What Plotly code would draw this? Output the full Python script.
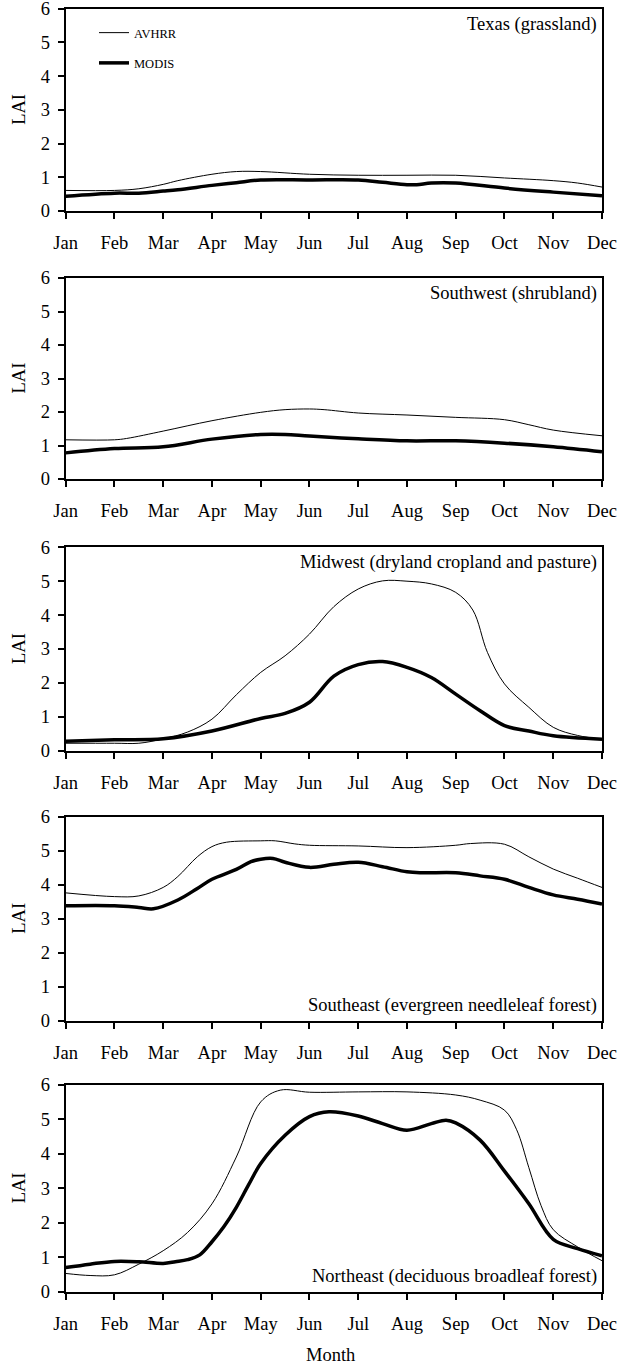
import plotly.graph_objects as go

MONTHS = ["Jan", "Feb", "Mar", "Apr", "May", "Jun", "Jul", "Aug", "Sep", "Oct", "Nov", "Dec"]
PANEL_TITLES = [
    "Texas (grassland)",
    "Southwest (shrubland)",
    "Midwest (dryland cropland and pasture)",
    "Southeast (evergreen needleleaf forest)",
    "Northeast (deciduous broadleaf forest)",
]

# month position (0 = Jan ... 11 = Dec) and LAI values
texas_avhrr_x = [0, 1, 1.5, 2, 2.3, 3, 3.5, 4, 5, 6, 7, 8, 9, 10, 10.5, 11]
texas_avhrr_y = [0.61, 0.61, 0.66, 0.79, 0.90, 1.09, 1.17, 1.17, 1.09, 1.06, 1.06, 1.06, 0.98, 0.90, 0.83, 0.71]
texas_modis_x = [0, 1, 1.5, 2, 2.3, 3, 3.5, 4, 5, 6, 6.5, 7, 7.2, 7.5, 8, 9, 10, 11]
texas_modis_y = [0.44, 0.53, 0.53, 0.59, 0.63, 0.76, 0.84, 0.92, 0.92, 0.92, 0.85, 0.78, 0.78, 0.83, 0.83, 0.68, 0.56, 0.45]

sw_avhrr_x = [0, 1, 1.25, 2, 3, 4, 4.5, 5, 5.3, 6, 7, 8, 9, 9.5, 10, 11]
sw_avhrr_y = [1.17, 1.17, 1.21, 1.43, 1.74, 1.99, 2.07, 2.09, 2.07, 1.97, 1.91, 1.84, 1.77, 1.62, 1.46, 1.29]
sw_modis_x = [0, 1, 2, 3, 4, 4.5, 5, 6, 7, 8, 9, 10, 11]
sw_modis_y = [0.78, 0.91, 0.96, 1.19, 1.33, 1.33, 1.28, 1.20, 1.14, 1.14, 1.07, 0.96, 0.81]

mw_avhrr_x = [0, 1, 1.5, 2, 2.5, 3, 3.5, 4, 4.5, 5, 5.5, 6, 6.5, 7, 7.5, 8, 8.35, 8.65, 9, 9.5, 10, 10.5, 11]
mw_avhrr_y = [0.22, 0.22, 0.22, 0.35, 0.55, 0.93, 1.65, 2.31, 2.80, 3.44, 4.25, 4.77, 5.01, 5.00, 4.92, 4.67, 4.15, 2.90, 1.97, 1.28, 0.69, 0.45, 0.34]
mw_modis_x = [0, 1, 2, 3, 4, 4.5, 5, 5.5, 6, 6.5, 7, 7.5, 8, 8.5, 9, 9.5, 10, 11]
mw_modis_y = [0.28, 0.32, 0.35, 0.58, 0.95, 1.10, 1.43, 2.20, 2.54, 2.63, 2.46, 2.16, 1.67, 1.18, 0.74, 0.58, 0.44, 0.34]

se_avhrr_x = [0, 1, 1.5, 2, 2.3, 2.7, 3, 3.3, 4, 4.3, 4.7, 5, 6, 7, 8, 8.3, 9, 9.5, 10, 10.5, 11]
se_avhrr_y = [3.76, 3.65, 3.67, 3.92, 4.24, 4.82, 5.12, 5.25, 5.29, 5.29, 5.20, 5.16, 5.14, 5.09, 5.16, 5.21, 5.19, 4.82, 4.46, 4.19, 3.92]
se_modis_x = [0, 1, 1.5, 1.8, 2.3, 2.7, 3, 3.5, 3.8, 4, 4.25, 4.5, 5, 5.5, 6, 6.5, 7, 7.3, 8, 8.5, 9, 9.5, 10, 10.5, 11]
se_modis_y = [3.38, 3.38, 3.33, 3.29, 3.55, 3.89, 4.16, 4.45, 4.68, 4.75, 4.77, 4.66, 4.51, 4.60, 4.66, 4.53, 4.38, 4.35, 4.35, 4.26, 4.16, 3.92, 3.70, 3.57, 3.43]

ne_avhrr_x = [0, 0.5, 1, 1.5, 2, 2.5, 3, 3.5, 4, 4.4, 5, 6, 7, 8, 8.5, 9, 9.25, 9.5, 9.75, 10, 10.5, 11]
ne_avhrr_y = [0.53, 0.47, 0.49, 0.80, 1.19, 1.72, 2.55, 3.91, 5.51, 5.85, 5.79, 5.80, 5.80, 5.71, 5.56, 5.27, 4.70, 3.60, 2.50, 1.80, 1.30, 0.90]
ne_modis_x = [0, 0.5, 1, 1.5, 2, 2.25, 2.5, 2.75, 3, 3.25, 3.5, 3.75, 4, 4.5, 5, 5.4, 6, 6.5, 7, 7.5, 7.8, 8, 8.5, 9, 9.5, 10, 10.5, 11]
ne_modis_y = [0.70, 0.80, 0.88, 0.87, 0.82, 0.87, 0.93, 1.07, 1.45, 1.90, 2.45, 3.10, 3.72, 4.54, 5.08, 5.22, 5.10, 4.88, 4.69, 4.88, 4.98, 4.90, 4.40, 3.50, 2.55, 1.52, 1.25, 1.04]

panels = [
    (texas_avhrr_x, texas_avhrr_y, texas_modis_x, texas_modis_y),
    (sw_avhrr_x, sw_avhrr_y, sw_modis_x, sw_modis_y),
    (mw_avhrr_x, mw_avhrr_y, mw_modis_x, mw_modis_y),
    (se_avhrr_x, se_avhrr_y, se_modis_x, se_modis_y),
    (ne_avhrr_x, ne_avhrr_y, ne_modis_x, ne_modis_y),
]

W, H = 626, 1364
FONT = "Liberation Serif, Times New Roman, serif"
FS = 18.5
# pixel bounds (top, bottom) of each plot area
panel_px = [(8.7, 211), (278, 479), (547.3, 750.7), (816.7, 1020.7), (1085, 1291.7)]
x_left, x_right = 65.7, 602
title_y = [25, 293, 562, 1005, 1276]

fig = go.Figure()
layout = dict(
    width=W, height=H,
    margin=dict(l=0, r=0, t=0, b=0, autoexpand=False),
    paper_bgcolor="white", plot_bgcolor="white",
    font=dict(family=FONT, size=FS, color="black"),
    showlegend=True,
    legend=dict(x=94 / W, y=1 - 18 / H, xanchor="left", yanchor="top",
                bgcolor="rgba(0,0,0,0)", borderwidth=0,
                font=dict(family=FONT, size=12.5, color="black"),
                tracegroupgap=11, itemwidth=30),
)
annotations = []
for i, (ax, ay, mx, my) in enumerate(panels):
    n = i + 1
    xa = "x" if n == 1 else f"x{n}"
    ya = "y" if n == 1 else f"y{n}"
    first = (i == 0)
    fig.add_trace(go.Scatter(x=ax, y=ay, mode="lines", name="AVHRR",
                             line=dict(color="black", width=1, shape="spline", smoothing=1.0),
                             xaxis=xa, yaxis=ya, showlegend=first, legendgroup="a",
                             hoverinfo="skip"))
    fig.add_trace(go.Scatter(x=mx, y=my, mode="lines", name="MODIS",
                             line=dict(color="black", width=3.5, shape="spline", smoothing=1.0),
                             xaxis=xa, yaxis=ya, showlegend=first, legendgroup="m",
                             hoverinfo="skip"))
    top, bot = panel_px[i]
    dom = [1 - bot / H, 1 - top / H]
    axcommon = dict(showline=True, linecolor="black", linewidth=2, mirror=True,
                    ticks="outside", ticklen=6, tickwidth=1.5, tickcolor="black",
                    showgrid=False, zeroline=False, automargin=False,
                    ticklabeloverflow="allow",
                    tickfont=dict(family=FONT, size=FS, color="black"))
    layout["xaxis" if n == 1 else f"xaxis{n}"] = dict(
        domain=[x_left / W, x_right / W], range=[0, 11], anchor=ya,
        tickmode="array", tickvals=list(range(12)), ticktext=MONTHS,
        ticklabelstandoff=8, **axcommon)
    layout["yaxis" if n == 1 else f"yaxis{n}"] = dict(
        domain=dom, range=[0, 6], anchor=xa, tickmode="linear", tick0=0, dtick=1,
        ticklabelstandoff=4, **axcommon)
    annotations.append(dict(text="LAI", x=19 / W, y=1 - (top + bot) / 2 / H,
                            xref="paper", yref="paper", showarrow=False, textangle=-90,
                            xanchor="center", yanchor="middle",
                            font=dict(family=FONT, size=FS, color="black")))
    annotations.append(dict(text=PANEL_TITLES[i], x=599 / W, y=1 - title_y[i] / H,
                            xref="paper", yref="paper", showarrow=False,
                            xanchor="right", yanchor="middle",
                            font=dict(family=FONT, size=FS, color="black")))

annotations.append(dict(text="Month", x=330 / W, y=1 - 1355 / H, xref="paper", yref="paper",
                        showarrow=False, xanchor="center", yanchor="middle",
                        font=dict(family=FONT, size=FS, color="black")))
layout["annotations"] = annotations
fig.update_layout(**layout)
fig.write_html("out.html", config={"displayModeBar": False},
               post_script="document.body.style.margin='0px';document.body.style.overflow='hidden';")
